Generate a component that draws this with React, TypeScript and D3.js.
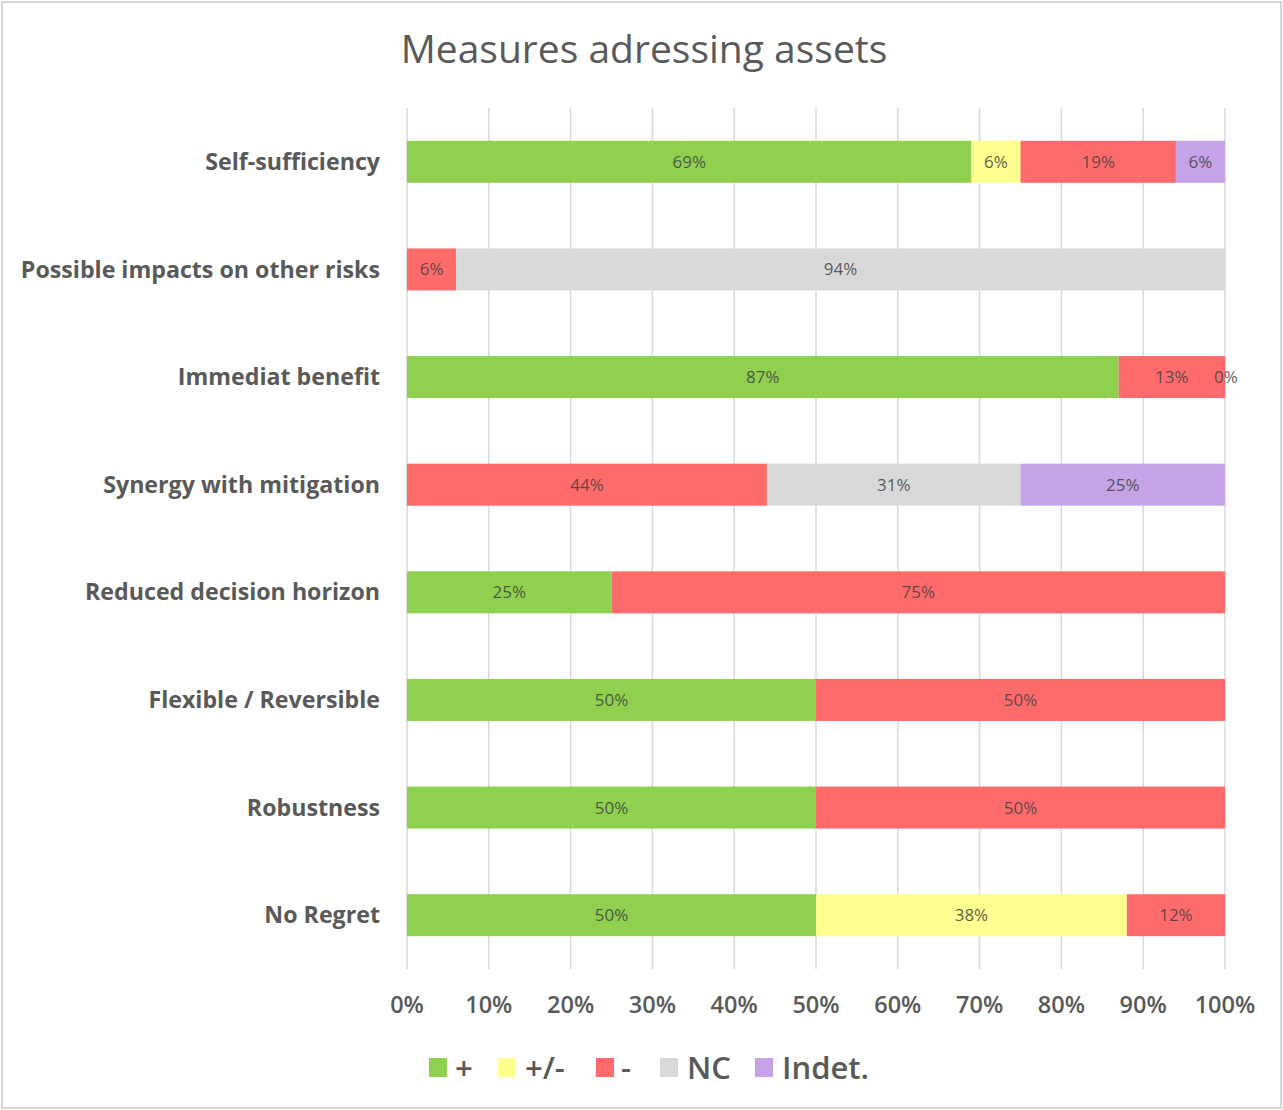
import * as d3 from "d3";

const categories = [
  "Self-sufficiency",
  "Possible impacts on other risks",
  "Immediat benefit",
  "Synergy with mitigation",
  "Reduced decision horizon",
  "Flexible / Reversible",
  "Robustness",
  "No Regret",
];

const seriesNames = ["+", "+/-", "-", "NC", "Indet."];
const seriesColors = ["#8fd14f", "#ffff8f", "#ff6b6b", "#d9d9d9", "#c5a3e6"];

// null = segment not present, 0 = present with a 0% label
const plus = [69, null, 87, null, 25, 50, 50, 50];
const mixed = [6, null, null, null, null, null, null, 38];
const minus = [19, 6, 13, 44, 75, 50, 50, 12];
const nc = [null, 94, null, 31, null, null, null, null];
const indet = [6, null, 0, 25, null, null, null, null];

const seriesValues = [plus, mixed, minus, nc, indet];
const tickValues = [0, 10, 20, 30, 40, 50, 60, 70, 80, 90, 100];

const W = 1283;
const H = 1110;
const font = "'Open Sans', 'Noto Sans', sans-serif";

export default function App() {
  const x = d3.scaleLinear().domain([0, 100]).range([407, 1225]);
  const y = d3
    .scaleBand<string>()
    .domain(categories)
    .range([108, 969])
    .paddingInner(0.61)
    .paddingOuter(0.305);
  const bh = y.bandwidth();

  const segments: { cat: string; s: number; x0: number; x1: number; v: number }[] = [];
  categories.forEach((cat, i) => {
    let acc = 0;
    seriesValues.forEach((vals, s) => {
      const v = vals[i];
      if (v === null || v === undefined) return;
      segments.push({ cat, s, x0: acc, x1: acc + v, v });
      acc += v;
    });
  });

  // legend layout
  const legendBox = [429, 498, 596, 660, 755];
  const legendText = [455, 525, 621, 687, 782];

  return (
    <svg width={W} height={H} style={{ display: "block", position: "absolute", left: 0, top: 0 }}>
      <rect x={2} y={2} width={W - 4} height={H - 4} fill="#fff" stroke="#c8c8c8" strokeWidth={1.5} />
      <text x={644} y={63} textAnchor="middle" fontFamily={font} fontSize={39} fill="#595959">
        Measures adressing assets
      </text>

      {tickValues.map((t) => (
        <line key={t} x1={x(t)} x2={x(t)} y1={108} y2={969} stroke="#d9d9d9" strokeWidth={1.5} />
      ))}

      {segments.map((d, i) => (
        <rect
          key={i}
          x={x(d.x0)}
          width={x(d.x1) - x(d.x0)}
          y={y(d.cat)}
          height={bh}
          fill={seriesColors[d.s]}
        />
      ))}

      {segments.map((d, i) => (
        <text
          key={"l" + i}
          x={d.v === 0 ? x(d.x0) + 1 : (x(d.x0) + x(d.x1)) / 2}
          y={(y(d.cat) ?? 0) + bh / 2}
          dy="0.35em"
          textAnchor="middle"
          fontFamily={font}
          fontSize={17}
          fill="#404040"
          fillOpacity={0.85}
        >
          {d.v}%
        </text>
      ))}

      {categories.map((c) => (
        <text
          key={c}
          x={380}
          y={(y(c) ?? 0) + bh / 2}
          dy="0.35em"
          textAnchor="end"
          fontFamily={font}
          fontWeight={700}
          fontSize={23.2}
          fill="#595959"
        >
          {c}
        </text>
      ))}

      {tickValues.map((t) => (
        <text
          key={"t" + t}
          x={x(t)}
          y={1005}
          dy="0.35em"
          textAnchor="middle"
          fontFamily={font}
          fontWeight={600}
          fontSize={23.5}
          fill="#595959"
        >
          {t}%
        </text>
      ))}

      {seriesNames.map((n, i) => (
        <g key={n}>
          <rect x={legendBox[i]} y={1058} width={18} height={19} fill={seriesColors[i]} />
          <text
            x={legendText[i]}
            y={1068}
            dy="0.36em"
            fontFamily={font}
            fontWeight={600}
            fontSize={31}
            fill="#595959"
          >
            {n}
          </text>
        </g>
      ))}
    </svg>
  );
}
